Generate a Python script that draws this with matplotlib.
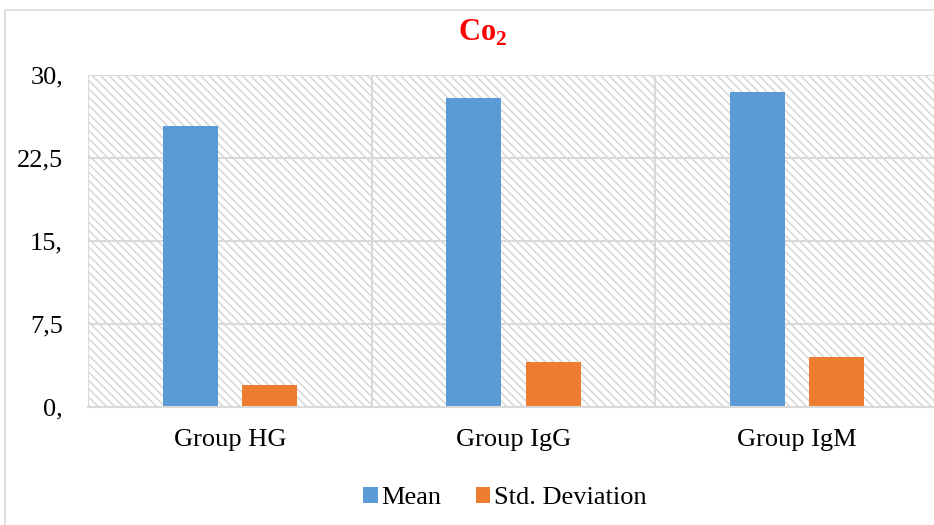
import matplotlib.pyplot as plt
import numpy as np
from matplotlib.patches import Rectangle

# values
groups = ["Group HG", "Group IgG", "Group IgM"]
mean_vals = [25.4, 27.9, 28.5]
std_vals = [2.0, 4.1, 4.5]
yticks = [0, 7.5, 15, 22.5, 30]
ytick_labels = ["0,", "7,5", "15,", "22,5", "30,"]

plt.rcParams['font.family'] = ['Liberation Serif', 'DejaVu Serif']
plt.rcParams['mathtext.fontset'] = 'custom'
plt.rcParams['mathtext.rm'] = 'Liberation Serif:bold'
plt.rcParams['mathtext.bf'] = 'Liberation Serif:bold'
plt.rcParams['hatch.linewidth'] = 1.0
plt.rcParams['hatch.color'] = '#d4d4d4'

fig = plt.figure(figsize=(9.34, 5.25), dpi=100)
# outer chart frame
fig.patches.append(Rectangle((5/934, -0.1), 1.2, 1 - 10/525 + 0.1, transform=fig.transFigure,
                             fill=False, edgecolor='#d9d9d9', linewidth=1.2))

ax = fig.add_axes([88/934, 1 - 407/525, 851/934, 332/525])

# hatched plot area
ax.add_patch(Rectangle((0, 0), 1, 1, transform=ax.transAxes, facecolor='white',
                       hatch='\\\\\\\\', edgecolor='#d4d4d4', linewidth=0, zorder=0))

x = np.arange(len(groups))
w = 0.194
ax.bar(x - 0.14, mean_vals, w, color='#5b9bd5', label='Mean', zorder=3)
ax.bar(x + 0.14, std_vals, w, color='#ed7d31', label='Std. Deviation', zorder=3)

ax.set_xlim(-0.5, 2.5)
ax.set_ylim(0, 30)
ax.set_yticks(yticks)
ax.set_yticklabels(ytick_labels, fontsize=19)
ax.set_xticks(x)
ax.set_xticklabels(groups, fontsize=19)
ax.tick_params(axis='both', which='both', length=0)
ax.tick_params(axis='y', pad=18)
ax.tick_params(axis='x', pad=16)

for yv in yticks[1:]:
    ax.axhline(yv, color='#d9d9d9', linewidth=1.5, zorder=1)
for xv in [-0.5, 0.5, 1.5, 2.5]:
    ax.axvline(xv, color='#d9d9d9', linewidth=1.5, zorder=1)

for s in ['top', 'right', 'left']:
    ax.spines[s].set_visible(False)
ax.spines['bottom'].set_color('#d9d9d9')
ax.spines['bottom'].set_linewidth(1.5)
ax.spines['bottom'].set_zorder(4)

fig.text(483/934, 1 - 33/525, r'Co$_{2}$', color='red', fontsize=22, fontweight='bold',
         ha='center', va='center')

fig.legend(loc='center', bbox_to_anchor=(505/934, 1 - 498/525), ncol=2, frameon=False,
           fontsize=19, handlelength=0.55, handleheight=0.55, handletextpad=0.15, columnspacing=1.3)

fig.savefig('out.png', dpi=100)
